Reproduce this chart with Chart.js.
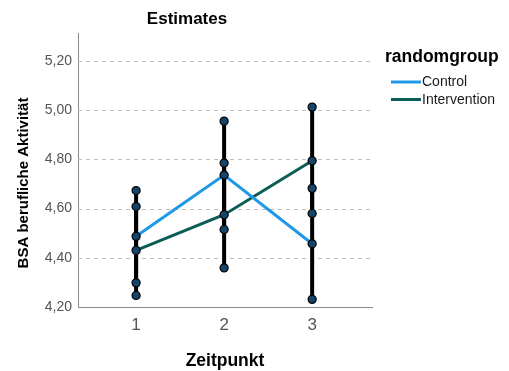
<!DOCTYPE html>
<html>
<head>
<meta charset="utf-8">
<script src="https://cdn.jsdelivr.net/npm/chart.js@4.4.1/dist/chart.umd.min.js"></script>
<style>
  html, body { margin: 0; padding: 0; background: #ffffff; }
  #wrap { width: 509px; height: 371px; position: relative; }
</style>
</head>
<body>
<div id="wrap"><canvas id="chart" width="509" height="371"></canvas></div>
<script>
// Time points and estimated marginal means with 95% confidence intervals
const zeitpunkte = [1, 2, 3];
const xTickLabels = ['1', '2', '3'];
const yTickValues = [4.20, 4.40, 4.60, 4.80, 5.00, 5.20];

const controlMean  = [4.487, 4.736, 4.457];
const controlLower = [4.298, 4.515, 4.231];
const controlUpper = [4.673, 4.955, 4.682];

const interventionMean  = [4.430, 4.575, 4.794];
const interventionLower = [4.247, 4.359, 4.580];
const interventionUpper = [4.608, 4.785, 5.012];

const groups = [
  { label: 'Control',      color: '#1f98e6', mean: controlMean,      lower: controlLower,      upper: controlUpper },
  { label: 'Intervention', color: '#0c5d56', mean: interventionMean, lower: interventionLower, upper: interventionUpper }
];

const FONT = '"Liberation Sans", Arial, sans-serif';

// Dashed horizontal reference lines at each y tick
const gridPlugin = {
  id: 'dashedGrid',
  beforeDatasetsDraw(chart) {
    const { ctx, chartArea, scales } = chart;
    ctx.save();
    ctx.strokeStyle = '#bdbdbd';
    ctx.lineWidth = 1;
    ctx.setLineDash([4, 4]);
    yTickValues.forEach(v => {
      if (v <= scales.y.min) return;
      const y = Math.round(scales.y.getPixelForValue(v)) + 0.5;
      ctx.beginPath();
      ctx.moveTo(chartArea.left, y);
      ctx.lineTo(chartArea.right, y);
      ctx.stroke();
    });
    ctx.restore();
  }
};

// Confidence interval bars plus markers at the bounds and means
const errorBarPlugin = {
  id: 'errorBars',
  afterDatasetsDraw(chart) {
    const { ctx, scales } = chart;
    ctx.save();
    ctx.strokeStyle = '#000000';
    ctx.lineWidth = 4;
    ctx.lineCap = 'butt';
    groups.forEach(g => {
      zeitpunkte.forEach((t, i) => {
        const x = scales.x.getPixelForValue(t);
        ctx.beginPath();
        ctx.moveTo(x, scales.y.getPixelForValue(g.lower[i]));
        ctx.lineTo(x, scales.y.getPixelForValue(g.upper[i]));
        ctx.stroke();
      });
    });
    ctx.lineWidth = 1.3;
    ctx.fillStyle = '#16456a';
    ctx.strokeStyle = '#050505';
    groups.forEach(g => {
      zeitpunkte.forEach((t, i) => {
        const x = scales.x.getPixelForValue(t);
        [g.lower[i], g.mean[i], g.upper[i]].forEach(v => {
          ctx.beginPath();
          ctx.arc(x, scales.y.getPixelForValue(v), 4, 0, Math.PI * 2);
          ctx.fill();
          ctx.stroke();
        });
      });
    });
    ctx.restore();
  }
};

// Title, axis titles and the group legend
const textPlugin = {
  id: 'texts',
  afterDraw(chart) {
    const { ctx, chartArea } = chart;
    ctx.save();
    ctx.fillStyle = '#000000';
    ctx.textBaseline = 'middle';
    ctx.textAlign = 'center';
    ctx.font = 'bold 17px ' + FONT;
    ctx.fillText('Estimates', 187, 19);

    ctx.font = 'bold 17.5px ' + FONT;
    ctx.fillText('Zeitpunkt', (chartArea.left + chartArea.right) / 2, 361);

    ctx.save();
    ctx.translate(24, 183);
    ctx.rotate(-Math.PI / 2);
    ctx.font = 'bold 15px ' + FONT;
    ctx.fillText('BSA berufliche Aktivität', 0, 0);
    ctx.restore();

    ctx.textAlign = 'left';
    ctx.font = 'bold 17.5px ' + FONT;
    ctx.fillText('randomgroup', 385, 57);

    const rows = [82, 99.5];
    groups.forEach((g, i) => {
      ctx.strokeStyle = g.color;
      ctx.lineWidth = 3;
      ctx.beginPath();
      ctx.moveTo(391, rows[i]);
      ctx.lineTo(421, rows[i]);
      ctx.stroke();
      ctx.fillStyle = '#1a1a1a';
      ctx.font = '14px ' + FONT;
      ctx.fillText(g.label, 422, rows[i] + 0.5);
    });
    ctx.restore();
  }
};

new Chart(document.getElementById('chart'), {
  type: 'line',
  data: {
    datasets: groups.map(g => ({
      label: g.label,
      data: zeitpunkte.map((t, i) => ({ x: t, y: g.mean[i] })),
      borderColor: g.color,
      backgroundColor: g.color,
      borderWidth: 3,
      pointRadius: 0,
      tension: 0
    }))
  },
  options: {
    responsive: false,
    animation: false,
    devicePixelRatio: 1,
    layout: { padding: { top: 33, right: 137, left: 0, bottom: 0 } },
    plugins: {
      legend: { display: false },
      title: { display: false },
      tooltip: { enabled: false }
    },
    scales: {
      x: {
        type: 'linear',
        min: 0.34,
        max: 3.68,
        afterBuildTicks(axis) { axis.ticks = zeitpunkte.map(v => ({ value: v })); },
        afterFit(axis) { axis.height = 64; },
        grid: { display: false, drawTicks: false },
        border: { display: true, color: '#8c8c8c', width: 1 },
        ticks: {
          padding: 8,
          color: '#555555',
          font: { family: FONT, size: 17 },
          callback(v) { return xTickLabels[zeitpunkte.indexOf(v)] ?? ''; }
        }
      },
      y: {
        type: 'linear',
        min: 4.20,
        max: 5.313,
        afterBuildTicks(axis) { axis.ticks = yTickValues.map(v => ({ value: v })); },
        afterFit(axis) { axis.width = 78; },
        grid: { display: false, drawTicks: false },
        border: { display: true, color: '#8c8c8c', width: 1 },
        ticks: {
          padding: 6,
          color: '#555555',
          font: { family: FONT, size: 14 },
          callback(v) { return v.toFixed(2).replace('.', ','); }
        }
      }
    }
  },
  plugins: [gridPlugin, errorBarPlugin, textPlugin]
});
</script>
</body>
</html>
